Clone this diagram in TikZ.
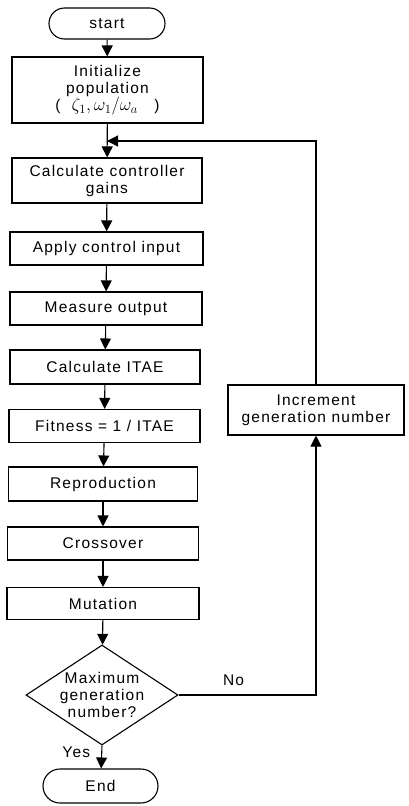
\RequirePackage{fix-cm}
\documentclass[tikz,border=0pt]{standalone}
\usepackage{fontspec}
\setmainfont{Liberation Sans}[LetterSpace=8]
\usetikzlibrary{shapes.geometric,shapes.misc,arrows.meta}

\tikzset{
  flowtext/.style={font=\fontsize{15.5}{17}\selectfont, align=center},
  procbox/.style={draw, line width=1.1pt, rectangle, inner sep=0pt, flowtext},
  terminal/.style={draw, line width=1.1pt, rounded rectangle, inner sep=0pt, flowtext},
  decision/.style={draw, line width=1.1pt, diamond, inner sep=0pt},
  flow/.style={line width=1.1pt, -{Triangle[width=11pt,length=11pt]}},
  edgetext/.style={flowtext, inner sep=0pt}
}
\newcommand{\bigmath}[1]{{\fontsize{18}{17}\selectfont$#1$}}

\begin{document}
\begin{tikzpicture}[x=1pt,y=-1pt]
\useasboundingbox (0,0) rectangle (409,806);

% main column
\node[terminal, minimum width=116pt, minimum height=31pt] (start) at (107,23.5) {start};
\node[procbox, minimum width=191pt, minimum height=66pt] (init) at (107.5,90)
  {Initialize\\population\\(\ \ \bigmath{\zeta_1,\omega_1/\omega_a}\ \ \ )};
\node[procbox, minimum width=190pt, minimum height=45pt] (calc) at (107,180.5)
  {Calculate controller\\gains};
\node[procbox, minimum width=193pt, minimum height=33pt] (apply) at (106.5,248.5) {Apply control input};
\node[procbox, minimum width=192pt, minimum height=33pt] (measure) at (106,308.5) {Measure output};
\node[procbox, minimum width=190pt, minimum height=34pt] (itae) at (105,367) {Calculate ITAE};
\node[procbox, minimum width=191pt, minimum height=33pt] (fitness) at (104.5,426) {Fitness = 1 / ITAE};
\node[procbox, minimum width=189pt, minimum height=34pt] (repro) at (103,484) {Reproduction};
\node[procbox, minimum width=191pt, minimum height=33pt] (cross) at (103,543.5) {Crossover};
\node[procbox, minimum width=192pt, minimum height=32pt] (mut) at (103,603.5) {Mutation};
\node[decision, minimum width=152pt, minimum height=100pt,
      label={[flowtext]center:Maximum\\generation\\number?}] (dec) at (102,695) {};
\node[terminal, minimum width=115pt, minimum height=34pt] (end) at (100.5,786) {End};

% feedback branch
\node[procbox, minimum width=176pt, minimum height=50pt] (inc) at (316,410)
  {Increment\\generation number};
\coordinate (merge) at (107,141);

% connectors
\draw[flow] (start) -- (init);
\draw[flow] (init) -- (calc);
\draw[flow] (calc) -- (apply);
\draw[flow] (apply) -- (measure);
\draw[flow] (measure) -- (itae);
\draw[flow] (itae) -- (fitness);
\draw[flow] (fitness) -- (repro);
\draw[flow] (repro) -- (cross);
\draw[flow] (cross) -- (mut);
\draw[flow] (mut) -- (dec);
\draw[flow] (dec.south) -- node[edgetext, left=11pt, pos=0.3] (yes) {Yes} (end);
\draw[flow] (dec.east) -- node[edgetext, above=9pt, pos=0.4] (no) {No} (dec.east -| inc.south) -- (inc.south);
\draw[flow] (inc.north) |- (merge);
\end{tikzpicture}
\end{document}
